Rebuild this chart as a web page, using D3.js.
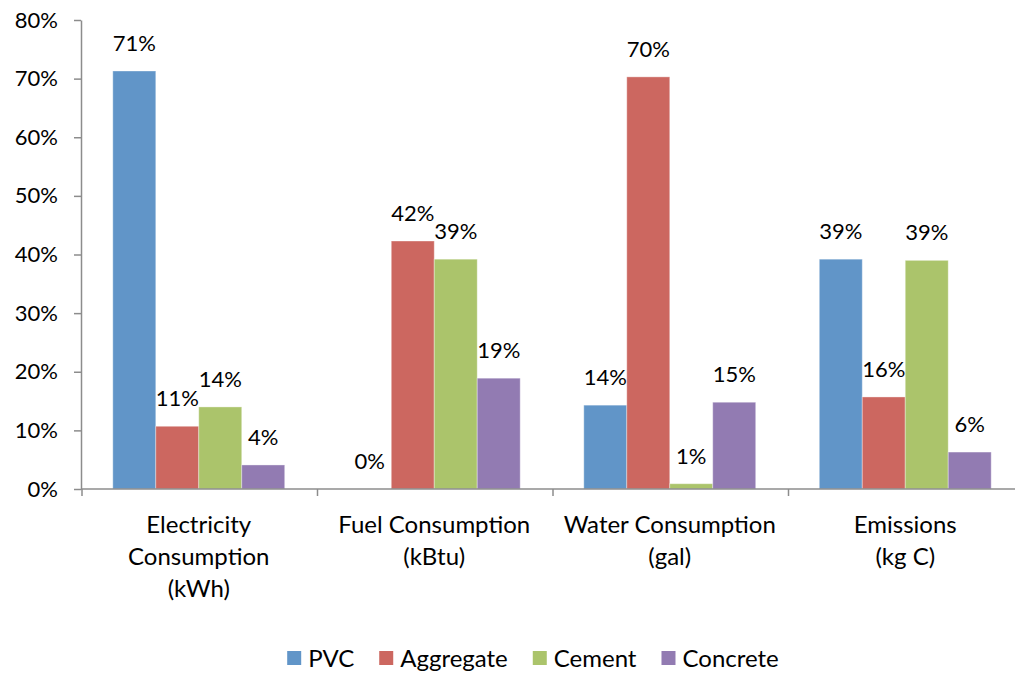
<!DOCTYPE html>
<html>
<head>
<meta charset="utf-8">
<script src="https://cdn.jsdelivr.net/npm/d3@7"></script>
<style>
  html, body { margin: 0; padding: 0; background: #fff; }
  svg { display: block; font-family: Lato, "Open Sans", sans-serif; }
</style>
</head>
<body>
<svg id="chart" width="1015" height="673"></svg>
<script>
// Share of impact by material, per indicator
const categories = [
  ["Electricity", "Consumption", "(kWh)"],
  ["Fuel Consumption", "(kBtu)"],
  ["Water Consumption", "(gal)"],
  ["Emissions", "(kg C)"]
];
const series = ["PVC", "Aggregate", "Cement", "Concrete"];
const colors = ["#6195c8", "#cc6760", "#abc46b", "#927bb2"];

const pvc       = [0.713, 0.000, 0.143, 0.392];
const aggregate = [0.107, 0.423, 0.703, 0.157];
const cement    = [0.140, 0.392, 0.009, 0.390];
const concrete  = [0.041, 0.189, 0.148, 0.063];
const values = [pvc, aggregate, cement, concrete];

const yTicks = [0, 0.1, 0.2, 0.3, 0.4, 0.5, 0.6, 0.7, 0.8];

const svg = d3.select("#chart");
const plotLeft = 81, plotRight = 1023, plotTop = 20, plotBottom = 489;

const x0 = d3.scaleBand()
  .domain(d3.range(categories.length))
  .range([plotLeft, plotRight])
  .padding(0);

const x1 = d3.scaleBand()
  .domain(series)
  .range([0, x0.bandwidth()])
  .paddingInner(0)
  .paddingOuter(0.74);

const y = d3.scaleLinear().domain([0, 0.8]).range([plotBottom, plotTop]);
const fmt = d3.format(".0%");
const axisColor = "#8c8c8c";
const fontSize = 22;
const labelSize = 24;

// y axis
const yAxis = svg.append("g")
  .attr("transform", `translate(${plotLeft},0)`)
  .call(d3.axisLeft(y).tickValues(yTicks).tickFormat(fmt).tickSize(7).tickPadding(16).tickSizeOuter(0));
yAxis.select(".domain").attr("stroke", axisColor).attr("stroke-width", 1.5);
yAxis.selectAll(".tick line").attr("stroke", axisColor).attr("stroke-width", 1.5);
yAxis.selectAll(".tick text").attr("font-size", fontSize).attr("fill", "#000")
  .attr("font-family", "Lato, 'Open Sans', sans-serif");

// bars
const groups = svg.append("g").selectAll("g")
  .data(categories.map((c, i) => i))
  .join("g")
  .attr("transform", i => `translate(${x0(i)},0)`);

groups.selectAll("rect")
  .data(i => series.map((s, k) => ({ s, k, v: values[k][i] })))
  .join("rect")
  .attr("x", d => x1(d.s))
  .attr("width", x1.bandwidth())
  .attr("y", d => y(d.v))
  .attr("height", d => plotBottom - y(d.v))
  .attr("fill", d => colors[d.k])
  .attr("stroke", "rgba(255,255,255,0.35)")
  .attr("stroke-width", 1);

groups.selectAll("text.val")
  .data(i => series.map((s, k) => ({ s, k, v: values[k][i] })))
  .join("text")
  .attr("class", "val")
  .attr("x", d => x1(d.s) + x1.bandwidth() / 2)
  .attr("y", d => y(d.v) - 20)
  .attr("text-anchor", "middle")
  .attr("font-size", fontSize)
  .attr("fill", "#000")
  .text(d => fmt(d.v));

// x axis
const xAxis = svg.append("g");
xAxis.append("line")
  .attr("x1", plotLeft).attr("x2", plotRight)
  .attr("y1", plotBottom).attr("y2", plotBottom)
  .attr("stroke", axisColor).attr("stroke-width", 1.5);
xAxis.selectAll("line.tick")
  .data(d3.range(categories.length + 1))
  .join("line")
  .attr("class", "tick")
  .attr("x1", i => plotLeft + i * x0.step() + 1)
  .attr("x2", i => plotLeft + i * x0.step() + 1)
  .attr("y1", plotBottom).attr("y2", plotBottom + 7)
  .attr("stroke", axisColor).attr("stroke-width", 1.5);

xAxis.selectAll("text")
  .data(categories.map((c, i) => ({ c, i })))
  .join("text")
  .attr("text-anchor", "middle")
  .attr("font-size", labelSize)
  .attr("fill", "#000")
  .each(function (d) {
    const t = d3.select(this);
    d.c.forEach((line, j) => {
      t.append("tspan")
        .attr("x", x0(d.i) + x0.bandwidth() / 2)
        .attr("y", 533 + j * 32)
        .text(line);
    });
  });

// legend
const legend = svg.append("g");
const items = legend.selectAll("g")
  .data(series.map((s, k) => ({ s, k })))
  .join("g");
items.append("rect")
  .attr("width", 14).attr("height", 14)
  .attr("y", 651)
  .attr("fill", d => colors[d.k]);
items.append("text")
  .attr("x", 21)
  .attr("y", 667)
  .attr("font-size", labelSize)
  .attr("fill", "#000")
  .text(d => d.s);

const widths = [];
items.each(function () {
  widths.push(21 + d3.select(this).select("text").node().getComputedTextLength());
});
const gap = 25;
const total = d3.sum(widths) + gap * (widths.length - 1);
let cursor = 533 - total / 2;
items.each(function (d, i) {
  d3.select(this).attr("transform", `translate(${cursor},0)`);
  cursor += widths[i] + gap;
});
</script>
</body>
</html>
